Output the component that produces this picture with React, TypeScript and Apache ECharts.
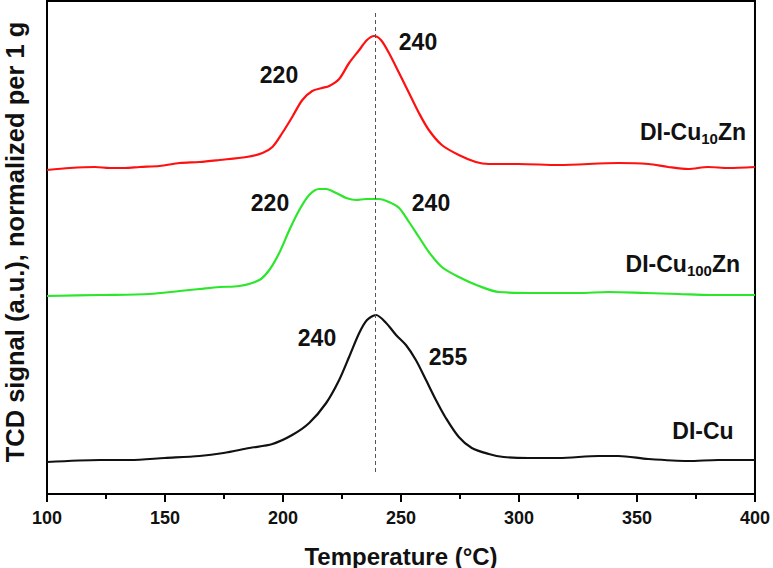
import React, { useEffect, useRef } from "react";
import * as echarts from "echarts";

// Temperature axis (°C)
const xMin = 100;
const xMax = 400;
const xStep = 50;

// DI-Cu profile
const tempDICu = [100, 122.4, 135.1, 149.9, 164.6, 174.8, 185.8, 195.5, 203.9, 211.1, 218.3, 223.8, 228, 232.3, 235.6, 239.4, 243.7, 247.9, 252.1, 256.3, 260.6, 264.8, 269, 274.5, 280, 287.2, 293.5, 304.1, 316.8, 333.7, 342.1, 354.8, 371.7, 384.4, 400];
const sigDICu = [32, 34, 34, 36, 38, 41, 46, 50, 59, 71, 91, 114, 137, 161, 174, 179, 171, 159, 149, 134, 114, 94, 76, 57, 46, 40, 37, 36, 36, 38, 38, 35, 33, 34, 34];

// DI-Cu100Zn profile (offset)
const tempDICu100Zn = [100, 122.4, 143.5, 156.2, 164.6, 173.1, 181.5, 190, 194.2, 198.4, 202.7, 206.9, 211.1, 215.3, 218.3, 222.5, 226.8, 231, 235.2, 240.7, 244.9, 249.2, 253.4, 257.6, 261.8, 267.3, 274.5, 283, 291.4, 308.3, 325.2, 337.9, 353.5, 367.5, 381.4, 400];
const sigDICu100Zn = [198, 199, 200, 203, 205, 207, 208, 214, 224, 241, 264, 284, 299, 305, 305, 301, 296, 294, 295, 295, 292, 286, 272, 257, 242, 227, 217, 208, 202, 201, 201, 202, 201, 200, 199, 199];

// DI-Cu10Zn profile (offset)
const tempDICu10Zn = [100, 109.7, 120.3, 126.6, 133, 139.3, 147.7, 156.2, 164.6, 173.1, 184.5, 191.3, 195.5, 199.7, 203.9, 208.2, 212.4, 216.6, 219.6, 223.8, 228, 232.3, 235.6, 238.6, 241.5, 244.9, 249.2, 253.4, 257.6, 261.8, 267.3, 274.5, 281.7, 287.2, 299.9, 316.8, 342.1, 354.8, 363.2, 371.7, 380.1, 388.6, 400];
const sigDICu10Zn = [324, 326, 327, 326, 326, 327, 328, 331, 332, 334, 337, 341, 347, 361, 377, 394, 403, 406, 408, 415, 431, 444, 454, 458, 454, 441, 421, 401, 381, 364, 349, 339, 332, 330, 330, 329, 331, 330, 327, 325, 327, 326, 327];

// Reference line through the main reduction peak
const refTemp = 239.2;
const refSpan = [22, 482];

const FONT = "'Liberation Sans', Arial, Helvetica, sans-serif";

const zip = (xs: number[], ys: number[]) => xs.map((x, i) => [x, ys[i]]);

export default function App() {
  const ref = useRef<HTMLDivElement>(null);

  useEffect(() => {
    if (!ref.current) return;
    const chart = echarts.init(ref.current, null, { renderer: "svg" });

    const lineSeries = (name: string, data: number[][], color: string, extra: any = {}) => ({
      name,
      type: "line",
      data,
      smooth: 0.3,
      symbol: "none",
      lineStyle: { color, width: 2.2 },
      z: 3,
      ...extra,
    });

    const label = (text: string, x: number, y: number, size = 23) => ({
      type: "text",
      x,
      y,
      style: {
        text,
        fill: "#111",
        fontSize: size,
        fontWeight: "bold",
        fontFamily: FONT,
        align: "center",
        verticalAlign: "middle",
      },
      z: 10,
    });

    const richName = (main: string, sub: string, tail: string, x: number, y: number) => ({
      type: "text",
      x,
      y,
      style: {
        text: `{a|${main}}{s|${sub}}{a|${tail}}`,
        align: "right",
        verticalAlign: "middle",
        rich: {
          a: { fontSize: 23, fontWeight: "bold", fontFamily: FONT, fill: "#111", lineHeight: 28 },
          s: { fontSize: 15, fontWeight: "bold", fontFamily: FONT, fill: "#111", lineHeight: 12, verticalAlign: "bottom" },
        },
      },
      z: 10,
    });

    chart.setOption({
      animation: false,
      backgroundColor: "#fff",
      grid: {
        left: 47,
        right: 16,
        top: 1,
        bottom: 74,
        show: true,
        borderColor: "#000",
        borderWidth: 2,
      },
      xAxis: {
        type: "value",
        min: xMin,
        max: xMax,
        interval: xStep,
        axisLine: { show: true, lineStyle: { color: "#000", width: 2 } },
        axisTick: { show: true, inside: false, length: 8, lineStyle: { color: "#000", width: 2 } },
        minorTick: { show: true, splitNumber: 2, length: 5, lineStyle: { color: "#000", width: 2 } },
        splitLine: { show: false },
        axisLabel: {
          color: "#111",
          fontSize: 18,
          fontWeight: "bold",
          fontFamily: FONT,
          margin: 15,
        },
      },
      yAxis: {
        type: "value",
        min: 0,
        max: 493,
        axisLine: { show: true, lineStyle: { color: "#000", width: 2 } },
        axisTick: { show: false },
        axisLabel: { show: false },
        splitLine: { show: false },
      },
      series: [
        lineSeries("DI-Cu", zip(tempDICu, sigDICu), "#111", {
          markLine: {
            silent: true,
            symbol: "none",
            label: { show: false },
            lineStyle: { color: "#555", width: 1, type: [4, 3] },
            data: [[{ coord: [refTemp, refSpan[0]] }, { coord: [refTemp, refSpan[1]] }]],
          },
        }),
        lineSeries("DI-Cu100Zn", zip(tempDICu100Zn, sigDICu100Zn), "#2ce62c"),
        lineSeries("DI-Cu10Zn", zip(tempDICu10Zn, sigDICu10Zn), "#ff1010"),
      ],
      graphic: [
        label("220", 279, 75),
        label("240", 418, 42),
        label("220", 270, 203),
        label("240", 431, 203),
        label("240", 317, 338),
        label("255", 448, 357),
        richName("DI-Cu", "10", "Zn", 746, 132),
        richName("DI-Cu", "100", "Zn", 740, 264),
        label("DI-Cu", 703, 431),
        {
          type: "text",
          x: 401,
          y: 556,
          style: {
            text: "Temperature (°C)",
            fill: "#111",
            fontSize: 24,
            fontWeight: "bold",
            fontFamily: FONT,
            align: "center",
            verticalAlign: "middle",
          },
        },
        {
          type: "text",
          x: 15,
          y: 242,
          rotation: Math.PI / 2,
          style: {
            text: "TCD signal (a.u.), normalized per 1 g",
            fill: "#111",
            fontSize: 25.5,
            fontWeight: "bold",
            fontFamily: FONT,
            align: "center",
            verticalAlign: "middle",
          },
        },
      ],
    });

    return () => chart.dispose();
  }, []);

  return <div ref={ref} style={{ width: 773, height: 568, position: "absolute", left: 0, top: 0 }} />;
}
